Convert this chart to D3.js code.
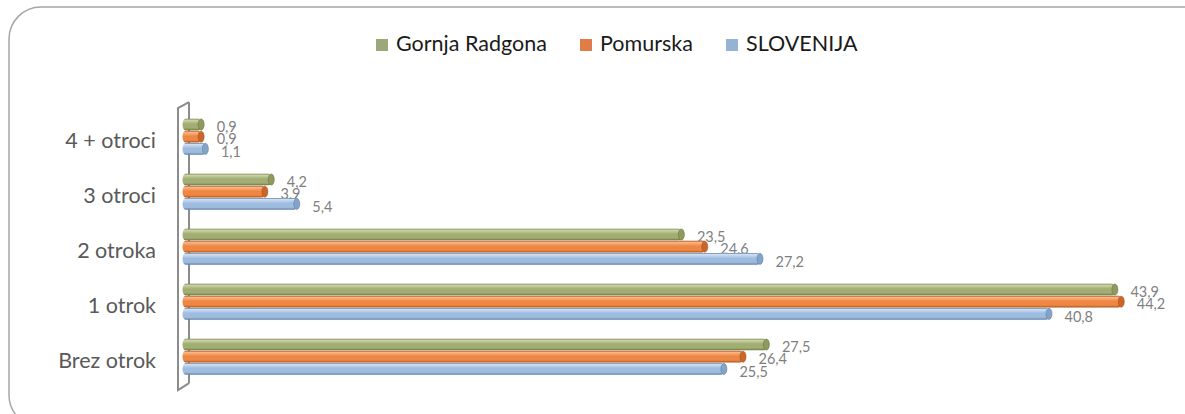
<!DOCTYPE html>
<html>
<head>
<meta charset="utf-8">
<script src="https://cdn.jsdelivr.net/npm/d3@7"></script>
<style>
  html, body { margin: 0; padding: 0; background: #fff; }
  svg { display: block; }
</style>
</head>
<body>
<svg id="chart" width="1185" height="414"></svg>
<script>
// Households by number of children, share (%)
const categories = ["4 + otroci", "3 otroci", "2 otroka", "1 otrok", "Brez otrok"];
const seriesNames = ["Gornja Radgona", "Pomurska", "SLOVENIJA"];
const gornjaRadgona = [0.9, 4.2, 23.5, 43.9, 27.5];
const pomurska = [0.9, 3.9, 24.6, 44.2, 26.4];
const slovenija = [1.1, 5.4, 27.2, 40.8, 25.5];
const seriesValues = [gornjaRadgona, pomurska, slovenija];

// cylinder shading per series: light top, base, dark bottom, cap
const palette = [
  { light: "#cdd6a8", base: "#a1ad72", dark: "#6c7640", cap: "#8e9a5e", key: "#9ca77a" },
  { light: "#f9b888", base: "#ef8744", dark: "#a9511c", cap: "#c9662a", key: "#e07c45" },
  { light: "#cfe0f2", base: "#9ebcdf", dark: "#5f7fa6", cap: "#84a3c8", key: "#95b4d4" }
];

const FONT = "Lato, 'Open Sans', sans-serif";

const svg = d3.select("#chart");
const defs = svg.append("defs");

palette.forEach((p, i) => {
  const g = defs.append("linearGradient")
    .attr("id", "cyl" + i).attr("x1", 0).attr("y1", 0).attr("x2", 0).attr("y2", 1);
  g.append("stop").attr("offset", "0%").attr("stop-color", p.dark);
  g.append("stop").attr("offset", "12%").attr("stop-color", p.light);
  g.append("stop").attr("offset", "45%").attr("stop-color", p.base);
  g.append("stop").attr("offset", "80%").attr("stop-color", p.base);
  g.append("stop").attr("offset", "100%").attr("stop-color", p.dark);
});

// outer rounded frame
svg.append("rect")
  .attr("x", 9).attr("y", 7).attr("width", 1230).attr("height", 420)
  .attr("rx", 32).attr("ry", 32)
  .attr("fill", "none").attr("stroke", "#a6a6a6").attr("stroke-width", 1.5);

// scales
const x = d3.scaleLinear().domain([0, 50]).range([185.5, 185.5 + 50 * 21.25]);
const y = d3.scaleBand().domain(categories).range([109.2, 384.2])
  .paddingInner(0.327).paddingOuter(0.1635);
const ySub = d3.scaleBand().domain(seriesNames).range([0, y.bandwidth()]).padding(0.04);

// side wall of the 3D plot
const wTop = y.range()[0], wBot = y.range()[1];
const wall = d3.path();
wall.moveTo(189, wTop - 7);
wall.lineTo(178, wTop - 1);
wall.lineTo(178, wBot + 6);
wall.lineTo(189, wBot - 1);
wall.moveTo(189, wTop - 7);
wall.lineTo(189, wBot - 1);
svg.append("path").attr("d", wall.toString())
  .attr("fill", "none").attr("stroke", "#8c8c8c").attr("stroke-width", 2)
  .attr("stroke-linejoin", "miter");

// category labels
svg.append("g").selectAll("text").data(categories).join("text")
  .attr("x", 156)
  .attr("y", d => y(d) + y.bandwidth() / 2 + 6)
  .attr("text-anchor", "end")
  .attr("dominant-baseline", "middle")
  .attr("font-family", FONT)
  .attr("font-size", 21.5)
  .attr("fill", "#595959")
  .text(d => d);

// bars
const fmt = v => String(v.toFixed(1)).replace(".", ",");
seriesNames.forEach((s, si) => {
  const g = svg.append("g");
  const rows = categories.map((c, ci) => ({ c, v: seriesValues[si][ci] }));
  const h = ySub.bandwidth();
  g.selectAll("rect.body").data(rows).join("rect")
    .attr("class", "body")
    .attr("x", x(0) - 3)
    .attr("y", d => y(d.c) + ySub(s))
    .attr("width", d => x(d.v) - x(0))
    .attr("height", h)
    .attr("rx", 3).attr("ry", h / 2)
    .attr("fill", `url(#cyl${si})`);
  // end cap of the cylinder
  g.selectAll("ellipse").data(rows).join("ellipse")
    .attr("cx", d => x(d.v) - 3.5)
    .attr("cy", d => y(d.c) + ySub(s) + h / 2)
    .attr("rx", 3).attr("ry", h / 2 - 0.3)
    .attr("fill", palette[si].cap)
    .attr("stroke", palette[si].dark).attr("stroke-width", 0.6);
  // value labels
  g.selectAll("text").data(rows).join("text")
    .attr("x", d => x(d.v) + 12)
    .attr("y", d => y(d.c) + ySub(s) + h / 2 + 4)
    .attr("dominant-baseline", "middle")
    .attr("font-family", FONT)
    .attr("font-size", 14.5)
    .attr("fill", "#7f7f7f")
    .text(d => fmt(d.v));
});

// legend
const legendX = [376, 580, 726];
const legend = svg.append("g");
seriesNames.forEach((s, i) => {
  legend.append("rect")
    .attr("x", legendX[i]).attr("y", 39).attr("width", 12).attr("height", 12)
    .attr("fill", palette[i].key);
  legend.append("text")
    .attr("x", legendX[i] + 20).attr("y", 45.5)
    .attr("dominant-baseline", "middle")
    .attr("font-family", FONT)
    .attr("font-size", 21.5)
    .attr("fill", "#1a1a1a")
    .text(s);
});
</script>
</body>
</html>
